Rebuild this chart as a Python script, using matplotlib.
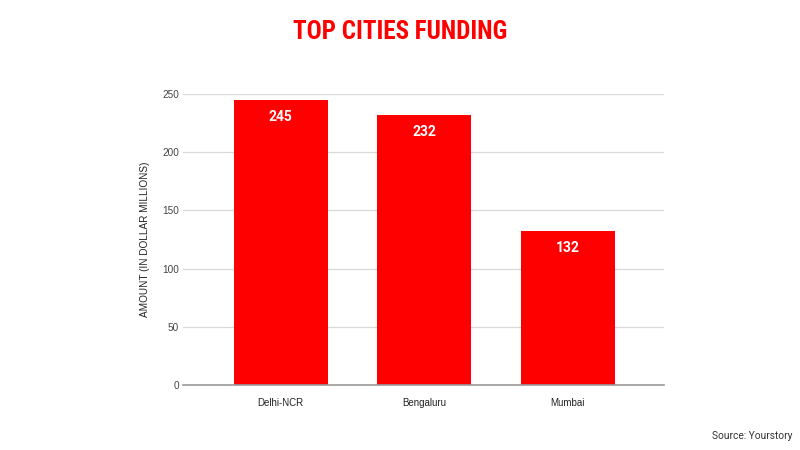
import matplotlib.pyplot as plt

cities = ['Delhi-NCR', 'Bengaluru', 'Mumbai']
funding = [245, 232, 132]
yticks = [0, 50, 100, 150, 200, 250]

red = '#ff0000'

fig = plt.figure(figsize=(8, 4.5), dpi=100)
ax = fig.add_axes([0.229, 0.1444, 0.601, 0.6467])

x = range(len(cities))
bars = ax.bar(x, funding, width=0.654, color=red, zorder=3)

for b, v in zip(bars, funding):
    ax.text(b.get_x() + b.get_width() / 2, v - 17 * 250 / 291, str(v),
            ha='center', va='center', color='white', fontsize=10,
            fontweight='bold', family='Roboto', zorder=4)

ax.set_xlim(-0.68, 2.67)
ax.set_ylim(0, 250)
ax.set_yticks(yticks)
ax.set_xticks(list(x))
ax.set_xticklabels(cities, family='Liberation Sans', fontsize=7, color='#222222')
ax.set_yticklabels([str(t) for t in yticks], family='Liberation Sans', fontsize=7.2, color='#444444')
ax.tick_params(axis='y', length=0, pad=3)
ax.tick_params(axis='x', length=0, pad=9)

ax.grid(axis='y', color='#d9d9d9', linewidth=0.9, zorder=0)
for s in ['top', 'right', 'left']:
    ax.spines[s].set_visible(False)
ax.spines['bottom'].set_color('#999999')
ax.spines['bottom'].set_linewidth(1.2)
ax.spines['bottom'].set_zorder(5)

ax.set_ylabel('AMOUNT (IN DOLLAR MILLIONS)', family='Liberation Sans', fontsize=7.2,
              color='#222222', labelpad=9)

fig.text(0.5, 0.928, 'TOP CITIES FUNDING', ha='center', va='center', color=red,
         fontsize=18, fontweight='bold', fontstretch='condensed',
         family=['Liberation Sans Narrow', 'Roboto Condensed', 'Roboto'])
fig.text(0.99, 0.032, 'Source: Yourstory', ha='right', va='center', color='#333333',
         fontsize=7.3, family='Roboto')

fig.savefig('out.png', dpi=100, facecolor='white')
